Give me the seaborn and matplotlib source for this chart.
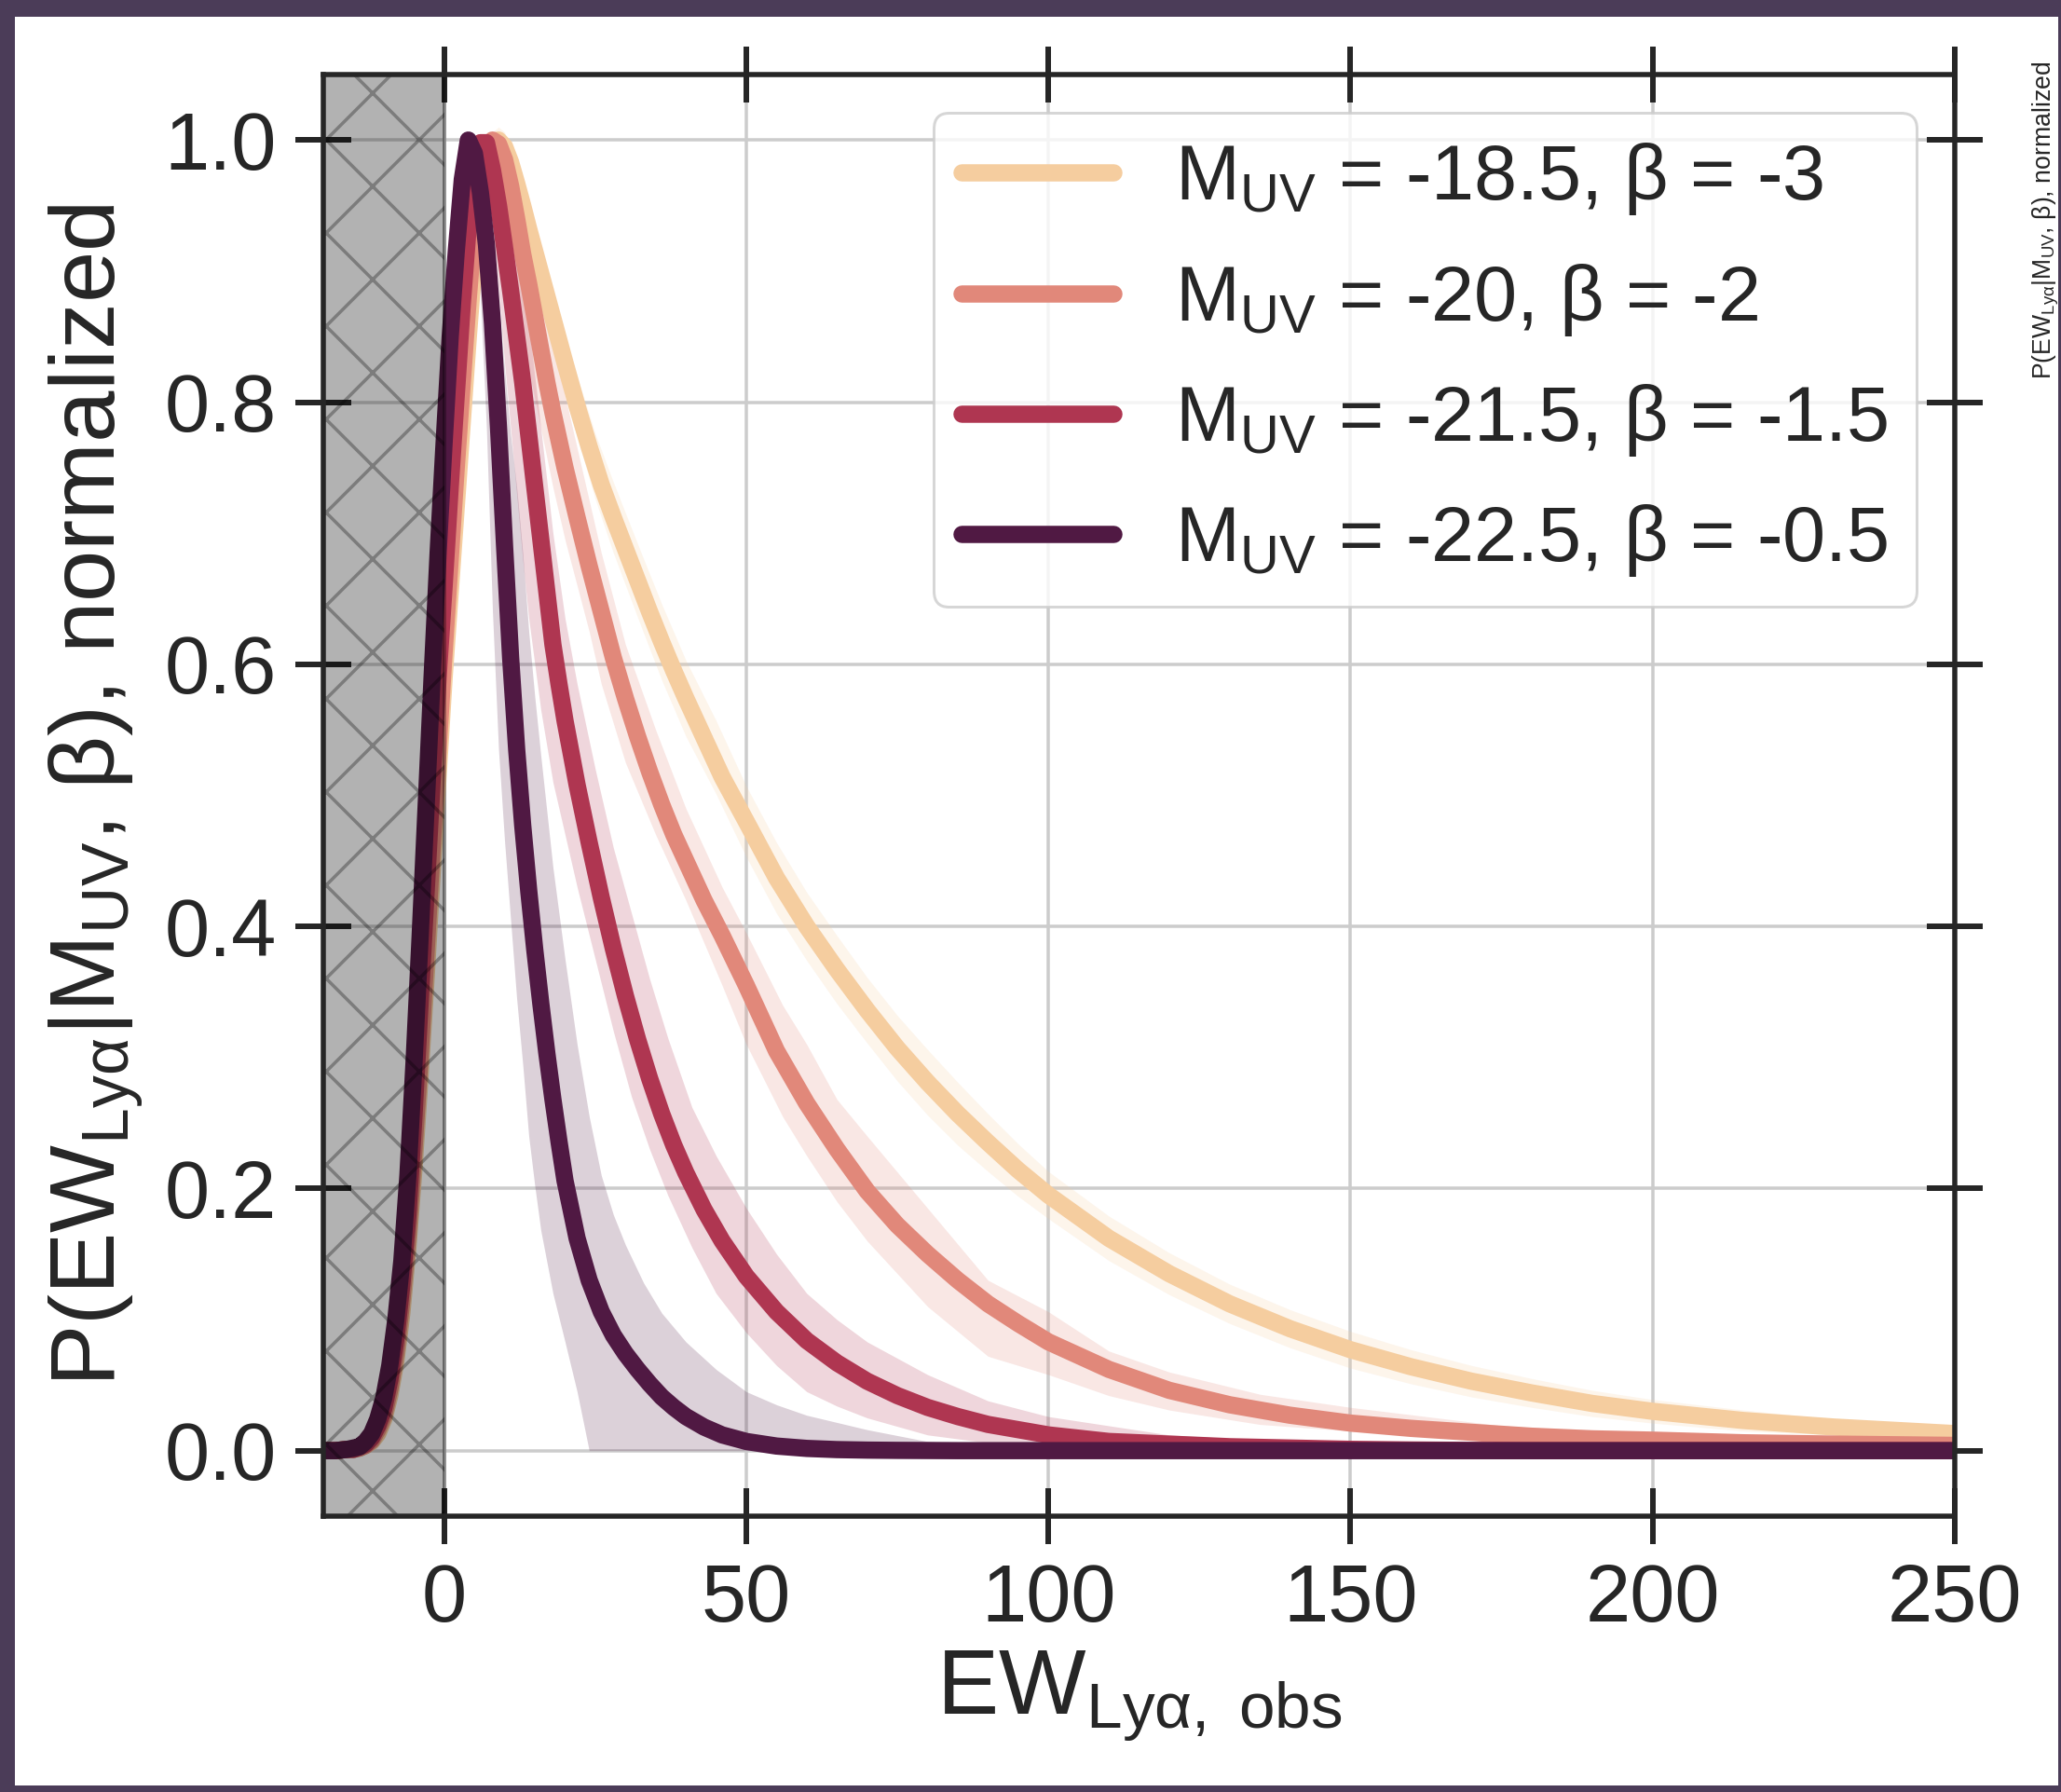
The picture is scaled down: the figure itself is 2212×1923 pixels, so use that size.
import numpy as np
import pandas as pd
import matplotlib
matplotlib.use("Agg")
import matplotlib.pyplot as plt
import seaborn as sns
from matplotlib.patches import Rectangle

# ---------------- data ----------------
labels = [r"M$_{\mathrm{UV}}$ = -18.5, β = -3",
          r"M$_{\mathrm{UV}}$ = -20, β = -2",
          r"M$_{\mathrm{UV}}$ = -21.5, β = -1.5",
          r"M$_{\mathrm{UV}}$ = -22.5, β = -0.5"]
colors = ["#f5cd9f", "#e1887a", "#af3651", "#501943"]

# common EW grid for the central curves
ew = ([-20, -18, -16] + list(range(-15, 21)) + list(range(22, 41, 2)) + [43, 46]
      + list(range(50, 101, 5)) + list(range(110, 201, 10)) + [215, 230, 250])

yellow_p = [0, 0, 0.001,
            0.001, 0.002, 0.004, 0.007, 0.013, 0.024, 0.042, 0.068, 0.105, 0.155, 0.215,
            0.285, 0.36, 0.44, 0.515, 0.59,
            0.655, 0.72, 0.785, 0.85, 0.91, 0.955, 0.983, 0.997, 1.0, 0.995, 0.983, 0.967,
            0.95, 0.932, 0.915, 0.898, 0.881, 0.864, 0.847, 0.83,
            0.797, 0.766, 0.737, 0.712, 0.688, 0.664, 0.64, 0.617, 0.595, 0.574,
            0.544, 0.514,
            0.48, 0.437, 0.40, 0.367, 0.336, 0.307, 0.281, 0.257, 0.235, 0.214, 0.195,
            0.162, 0.135, 0.112, 0.093, 0.077, 0.064, 0.053, 0.044, 0.036, 0.030,
            0.023, 0.018, 0.013]
salmon_p = [0, 0, 0.001,
            0.001, 0.002, 0.004, 0.008, 0.016, 0.027, 0.047, 0.075, 0.115, 0.165, 0.23,
            0.30, 0.38, 0.46, 0.535, 0.61,
            0.68, 0.75, 0.815, 0.88, 0.935, 0.97, 0.99, 1.0, 0.997, 0.985, 0.965, 0.94,
            0.913, 0.89, 0.865, 0.84, 0.815, 0.792, 0.771, 0.75,
            0.712, 0.675, 0.64, 0.605, 0.574, 0.545, 0.518, 0.493, 0.47, 0.45,
            0.42, 0.393,
            0.355, 0.305, 0.265, 0.23, 0.198, 0.172, 0.15, 0.13, 0.112, 0.097, 0.083,
            0.062, 0.046, 0.035, 0.027, 0.021, 0.017, 0.014, 0.011, 0.009, 0.008,
            0.006, 0.005, 0.004]
red_p = [0, 0, 0.001,
         0.001, 0.003, 0.005, 0.01, 0.019, 0.032, 0.054, 0.085, 0.127, 0.18, 0.255,
         0.34, 0.425, 0.51, 0.59, 0.66,
         0.735, 0.805, 0.875, 0.935, 0.975, 0.998, 0.998, 0.977, 0.95, 0.918, 0.885, 0.85,
         0.815, 0.775, 0.735, 0.695, 0.655, 0.615, 0.585, 0.557,
         0.508, 0.464, 0.422, 0.383, 0.347, 0.314, 0.284, 0.257, 0.233, 0.212,
         0.184, 0.16,
         0.133, 0.106, 0.084, 0.067, 0.053, 0.042, 0.033, 0.026, 0.02, 0.016, 0.012,
         0.007, 0.005, 0.003, 0.002, 0.001, 0.0005, 0.0002, 0, 0, 0,
         0, 0, 0]
dark_p = [0, 0, 0.001,
          0.002, 0.003, 0.007, 0.013, 0.024, 0.04, 0.065, 0.10, 0.145, 0.21, 0.295,
          0.39, 0.49, 0.59, 0.685, 0.77,
          0.85, 0.915, 0.97, 1.0, 0.99, 0.96, 0.92, 0.86, 0.78, 0.69, 0.605, 0.535,
          0.477, 0.427, 0.382, 0.341, 0.303, 0.268, 0.236, 0.206,
          0.162, 0.13, 0.106, 0.088, 0.074, 0.062, 0.051, 0.041, 0.033, 0.026,
          0.018, 0.012,
          0.007, 0.0035, 0.0017, 0.0008, 0.0004, 0.0002, 0.0001, 0, 0, 0, 0,
          0, 0, 0, 0, 0, 0, 0, 0, 0, 0,
          0, 0, 0]

# uncertainty bands
yellow_band_ew = [-20, -16, -14, -12, -10, -8, -6, -4, -2, 0, 2, 3, 4, 5, 6, 7, 8, 9, 10,
                  12, 14, 16, 18, 20, 22, 25, 28, 32, 36, 40, 45, 50, 55, 60, 65, 70, 75,
                  80, 85, 90, 95, 100, 110, 120, 130, 140, 150, 160, 170, 180, 190, 200,
                  215, 230, 250]
yellow_band_mid = [0.0, 0.001, 0.002, 0.007, 0.024, 0.068, 0.155, 0.285, 0.44, 0.59,
                   0.72, 0.785, 0.85, 0.91, 0.955, 0.983, 0.997, 1.0, 0.995,
                   0.967, 0.932, 0.898, 0.864, 0.83, 0.797, 0.751, 0.712, 0.664, 0.617,
                   0.574, 0.529, 0.48, 0.437, 0.40, 0.367, 0.336, 0.307, 0.281, 0.257,
                   0.235, 0.214, 0.195, 0.162, 0.135, 0.112, 0.093, 0.077, 0.064, 0.053,
                   0.044, 0.036, 0.030, 0.023, 0.018, 0.013]
yellow_band_spread = [0, 0, 0, 0, 0, 0, 0, 0, 0, 0,
                      0.003, 0.004, 0.005, 0.006, 0.007, 0.008, 0.009, 0.01, 0.011,
                      0.013, 0.015, 0.017, 0.019, 0.021, 0.023, 0.025, 0.027, 0.028, 0.029,
                      0.029, 0.028, 0.027, 0.027, 0.026, 0.026, 0.025, 0.025, 0.025, 0.024,
                      0.022, 0.02, 0.018, 0.017, 0.016, 0.015, 0.0145, 0.014, 0.013, 0.012,
                      0.011, 0.01, 0.009, 0.008, 0.006, 0.005]

salmon_band_ew = [-20, -16, -14, -12, -10, -8, -6, -4, -2, 0, 2, 3, 4, 5, 6, 7, 8, 9, 10,
                  12, 14, 16, 18, 20, 22, 24, 26, 28, 30, 35, 40, 46, 50, 56, 60, 65, 70,
                  80, 90, 100, 110, 120, 135, 150, 175, 200, 225, 250]
salmon_lo = [0.0, 0.001, 0.002, 0.008, 0.027, 0.075, 0.165, 0.30, 0.46, 0.61,
             0.75, 0.815, 0.88, 0.935, 0.965, 0.98, 0.99, 0.975, 0.95,
             0.88, 0.825, 0.78, 0.735, 0.695, 0.66, 0.625, 0.585, 0.555, 0.525,
             0.47, 0.42, 0.355, 0.31, 0.255, 0.225, 0.19, 0.16, 0.11, 0.072, 0.058, 0.042,
             0.031, 0.02, 0.015, 0.008, 0.004, 0.002, 0.001]
salmon_hi = [0.0, 0.001, 0.002, 0.008, 0.027, 0.075, 0.165, 0.30, 0.46, 0.61,
             0.75, 0.815, 0.885, 0.945, 0.98, 0.995, 1.0, 1.0, 0.99,
             0.96, 0.93, 0.89, 0.85, 0.805, 0.765, 0.725, 0.685, 0.65, 0.615,
             0.55, 0.49, 0.43, 0.395, 0.34, 0.31, 0.268, 0.24, 0.185, 0.13, 0.106, 0.076,
             0.06, 0.043, 0.033, 0.019, 0.012, 0.008, 0.006]

red_band_ew = [-20, -16, -14, -12, -10, -8, -6, -4, -2, 0, 1, 2, 3, 4, 5, 6, 7, 8, 9, 10,
               11, 12, 13, 14, 16, 18, 20, 22, 25, 28, 31, 34, 37, 41, 45, 50, 55, 60, 65,
               70, 80, 90, 100, 120, 150, 200, 250]
red_lo = [0.0, 0.001, 0.003, 0.01, 0.032, 0.085, 0.18, 0.34, 0.51, 0.66,
          0.735, 0.805, 0.875, 0.93, 0.965, 0.98, 0.97, 0.935, 0.885, 0.83, 0.78, 0.73,
          0.68, 0.635, 0.565, 0.51, 0.47, 0.43, 0.375, 0.32, 0.27, 0.23, 0.195, 0.155,
          0.12, 0.09, 0.065, 0.045, 0.034, 0.025, 0.012, 0.006, 0.003, 0.0, 0.0, 0.0, 0.0]
red_hi = [0.0, 0.001, 0.003, 0.01, 0.032, 0.085, 0.18, 0.34, 0.51, 0.66,
          0.735, 0.805, 0.885, 0.95, 0.99, 1.0, 1.0, 0.995, 0.98, 0.96, 0.94, 0.91,
          0.885, 0.86, 0.78, 0.7, 0.635, 0.585, 0.52, 0.46, 0.41, 0.36, 0.315, 0.262,
          0.225, 0.185, 0.15, 0.12, 0.1, 0.083, 0.058, 0.038, 0.026, 0.012, 0.004, 0.0, 0.0]

dark_band_ew = [-20, -16, -14, -12, -10, -8, -6, -4, -2, 0, 1, 2, 3, 4, 5, 6, 7, 8, 9, 10,
                11, 12, 13, 14, 15, 16, 18, 20, 22, 24, 26, 28, 30, 33, 36, 40, 45, 50, 55,
                60, 70, 80, 100, 150, 250]
dark_lo = [0.0, 0.001, 0.003, 0.013, 0.04, 0.10, 0.21, 0.39, 0.59, 0.77,
           0.85, 0.915, 0.965, 0.98, 0.95, 0.88, 0.78, 0.64, 0.535, 0.465, 0.405, 0.345,
           0.295, 0.24, 0.202, 0.168, 0.12, 0.083, 0.045, 0.0, 0.0, 0.0, 0.0,
           0.0, 0.0, 0.0, 0.0, 0.0, 0.0, 0.0, 0.0, 0.0, 0.0, 0.0, 0.0]
dark_hi = [0.0, 0.001, 0.003, 0.013, 0.04, 0.10, 0.21, 0.39, 0.59, 0.77,
           0.85, 0.915, 0.975, 1.0, 1.0, 0.99, 0.965, 0.925, 0.875, 0.825, 0.775, 0.735,
           0.685, 0.625, 0.575, 0.53, 0.445, 0.375, 0.31, 0.255, 0.21, 0.18, 0.157,
           0.128, 0.105, 0.083, 0.062, 0.045, 0.035, 0.027, 0.016, 0.007, 0.001, 0.0, 0.0]

xticks = [0, 50, 100, 150, 200, 250]
yticks = [0.0, 0.2, 0.4, 0.6, 0.8, 1.0]
masked_range = [-20, 0]

# ---------------- style ----------------
DPI = 600
W, H = 2212, 1923


def px(v):
    return v * 72.0 / DPI


sns.set_theme(style="whitegrid")
plt.rcParams["font.family"] = ["Liberation Sans", "DejaVu Sans"]
plt.rcParams["mathtext.fontset"] = "custom"
plt.rcParams["mathtext.rm"] = "Liberation Sans"
plt.rcParams["mathtext.it"] = "Liberation Sans:italic"
plt.rcParams["mathtext.bf"] = "Liberation Sans:bold"
plt.rcParams["hatch.linewidth"] = px(3.5)
TXT = "#262626"

fig = plt.figure(figsize=(W / DPI, H / DPI), dpi=DPI, facecolor="white")
ax = fig.add_axes([347 / W, 1 - 1627 / H, (2098 - 347) / W, (1627 - 80) / H])
ax.set_facecolor("white")
ax.set_axisbelow(True)
ax.grid(True, color="#cccccc", lw=px(3.5))

LW = px(18.5)
bands = [
    (yellow_band_ew,
     list(np.array(yellow_band_mid) - np.array(yellow_band_spread)),
     list(np.array(yellow_band_mid) + np.array(yellow_band_spread))),
    (salmon_band_ew, salmon_lo, salmon_hi),
    (red_band_ew, red_lo, red_hi),
    (dark_band_ew, dark_lo, dark_hi),
]
curves = [yellow_p, salmon_p, red_p, dark_p]
for i, ((bx, lo, hi), yp, c, lab) in enumerate(zip(bands, curves, colors, labels)):
    ax.fill_between(bx, np.clip(lo, 0, None), hi, color=c, alpha=0.2, lw=0,
                    zorder=1.5 + i * 0.1)
    df = pd.DataFrame({"ew": ew, "p": yp})
    sns.lineplot(data=df, x="ew", y="p", ax=ax, color=c, lw=LW, label=lab,
                 estimator=None, sort=False, solid_capstyle="round",
                 solid_joinstyle="round", zorder=2 + i * 0.1)

ax.axvspan(masked_range[0], masked_range[1], facecolor=(0, 0, 0, 0.3),
           edgecolor=(0, 0, 0, 0.3), hatch="xx", lw=px(4), zorder=3)

ax.set_xlim(-20, 250)
ax.set_ylim(-0.05, 1.05)
ax.set_xticks(xticks)
ax.set_yticks(yticks)
ax.set_xticklabels([str(t) for t in xticks])
ax.set_yticklabels([f"{t:.1f}" for t in yticks])
ax.tick_params(axis="both", which="major", direction="inout", length=px(60), width=px(6),
               color=TXT, labelcolor=TXT, labelsize=10.4, pad=px(20),
               top=True, right=True, bottom=True, left=True,
               labeltop=False, labelright=False)
for s in ax.spines.values():
    s.set_color(TXT)
    s.set_linewidth(px(5.5))
    s.set_zorder(6)

ax.set_xlabel(r"EW$_{\mathrm{Ly\alpha,\ obs}}$", fontsize=11.9, color=TXT, va="center")
ax.xaxis.set_label_coords(0.5, -0.125)
ax.set_ylabel(r"P(EW$_{\mathrm{Ly\alpha}}$|M$_{\mathrm{UV}}$, β), normalized",
              fontsize=11.95, color=TXT, va="center")
ax.yaxis.set_label_coords(-0.139, 0.5)

leg = ax.legend(loc="upper right", fontsize=9.95, handlelength=1.97, handletextpad=0.8,
                labelspacing=0.57, borderpad=0.36, frameon=True, fancybox=True,
                framealpha=0.8, edgecolor="#cccccc", facecolor="white")
leg.get_frame().set_linewidth(px(3))
for t in leg.get_texts():
    t.set_color(TXT)
leg.set_zorder(7)

fig.text(2196 / W, 1 - 236 / H,
         r"P(EW$_{\mathrm{Ly\alpha}}$|M$_{\mathrm{UV}}$, β), normalized",
         rotation=90, fontsize=3.2, ha="center", va="center", color=TXT)

# decorative frame around the picture
frame_c = "#4b3c58"
fig.add_artist(Rectangle((0, 1 - 18 / H), 1, 18 / H, transform=fig.transFigure,
                         facecolor=frame_c, edgecolor="none"))
fig.add_artist(Rectangle((0, 0), 16 / W, 1, transform=fig.transFigure,
                         facecolor=frame_c, edgecolor="none"))
fig.add_artist(Rectangle((0, 0), 1, 7 / H, transform=fig.transFigure,
                         facecolor=frame_c, edgecolor="none"))
fig.add_artist(Rectangle((1 - 3 / W, 0), 3 / W, 1, transform=fig.transFigure,
                         facecolor=frame_c, edgecolor="none"))

fig.savefig("out.png", dpi=DPI, facecolor="white")
